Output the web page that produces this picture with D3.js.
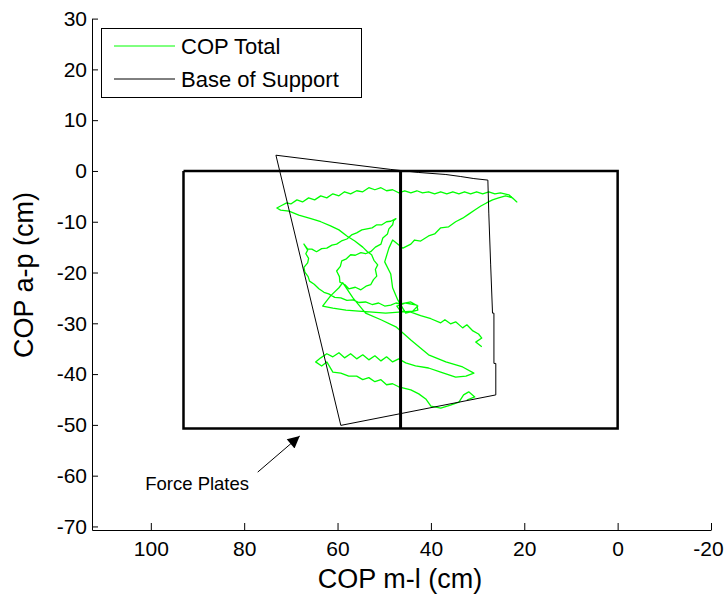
<!DOCTYPE html>
<html>
<head>
<meta charset="utf-8">
<script src="https://cdn.jsdelivr.net/npm/d3@7"></script>
<style>
  body { margin: 0; background: #fff; }
  svg { display: block; font-family: "Liberation Sans", Arial, sans-serif; }
</style>
</head>
<body>
<svg width="725" height="595"></svg>
<script>
// tick labels
var xTicks = [100, 80, 60, 40, 20, 0, -20];
var yTicks = [30, 20, 10, 0, -10, -20, -30, -40, -50, -60, -70];

// COP trace [m-l, a-p] in cm
var copTrace = [
  [29.1,-34.6],[30.4,-33.7],[29.1,-32.9],[29.8,-32.1],[31.0,-31.5],[32.3,-30.3],[33.2,-30.9],[34.7,-29.7],[35.8,-30.1],[37.0,-29.3],
  [37.9,-29.9],[40.0,-29.1],[42.2,-28.5],[44.3,-27.8],[46.5,-27.6],[47.3,-26.6],[45.4,-26.0],[43.0,-26.4],[42.8,-27.4],[45.4,-28.0],
  [47.1,-25.4],[48.2,-23.0],[48.6,-20.3],[49.9,-17.9],[49.0,-15.2],[48.2,-13.6],
  [46.0,-15.2],[44.3,-14.4],[43.5,-13.6],[42.2,-13.8],[40.5,-12.8],[39.2,-12.4],[37.9,-11.2],[36.2,-11.0],[34.7,-10.0],[33.2,-9.3],
  [31.9,-8.5],[30.6,-7.7],[29.3,-6.9],[28.1,-6.3],[26.8,-5.7],[25.5,-5.3],[24.0,-4.9],[22.5,-5.3],[21.6,-6.1],
  [22.3,-5.5],[23.3,-4.7],[25.1,-4.3],[26.3,-4.5],[27.6,-4.1],[28.9,-4.5],[30.2,-4.1],[31.5,-4.5],[32.8,-4.1],[34.0,-4.5],
  [35.3,-4.1],[36.6,-4.5],[37.9,-4.1],[39.2,-4.5],[40.5,-4.1],[41.8,-4.3],[43.0,-3.9],[44.3,-4.3],[45.6,-3.9],[46.9,-4.3],
  [48.2,-3.7],[49.5,-3.9],[50.7,-3.3],[52.0,-3.7],[53.3,-3.3],[54.6,-4.1],[55.9,-3.9],[57.2,-4.5],[58.5,-4.1],[59.7,-4.9],
  [61.0,-4.5],[62.3,-5.3],[63.6,-4.9],[64.9,-5.7],[66.2,-5.3],[67.5,-6.1],[68.7,-5.7],[70.0,-6.5],[70.9,-6.3],[72.2,-6.9],[73.0,-7.3],
  [72.2,-7.7],[70.4,-7.9],[68.3,-8.7],[65.7,-9.4],[63.6,-10.0],[61.5,-10.8],[59.7,-11.6],[58.0,-12.8],[56.3,-13.8],
  [54.6,-15.0],[53.6,-15.9],[52.7,-16.5],[52.2,-17.6],[51.4,-18.5],[51.9,-19.4],[51.6,-20.7],[52.3,-21.4],[52.9,-22.4],[53.9,-22.7],
  [55.0,-23.4],[56.2,-22.9],[57.6,-23.2],[58.4,-22.4],[59.5,-21.9],[59.6,-20.8],[60.2,-19.7],[59.4,-18.8],[59.1,-17.7],[58.1,-17.3],
  [57.2,-16.5],[56.2,-16.6],[55.0,-16.1],[54.0,-16.3],[52.9,-15.9],[51.9,-15.0],[50.7,-14.4],[50.3,-13.2],[49.3,-12.4],[49.0,-11.4],
  [48.2,-10.6],[48.0,-9.8],[47.5,-9.4],
  [48.6,-9.9],[49.5,-10.0],[50.5,-10.6],[51.6,-10.6],[52.6,-11.2],[53.7,-11.4],[54.8,-11.6],[55.9,-12.2],[57.0,-12.6],[58.0,-13.4],
  [59.0,-13.7],[60.2,-14.4],[61.2,-14.6],[62.3,-15.2],[63.4,-15.3],[64.5,-15.9],[65.5,-15.4],[66.4,-15.4],[67.2,-14.4],
  [66.4,-15.6],[66.8,-16.3],[66.2,-17.2],[66.4,-18.1],[67.2,-19.0],[67.0,-19.9],[66.3,-20.8],[66.0,-21.7],[65.0,-22.3],[64.0,-23.2],
  [62.9,-23.9],[61.9,-24.2],[60.6,-24.9],[59.3,-25.0],[58.0,-25.5],[56.7,-25.4],[55.4,-25.9],[54.0,-25.8],[52.6,-26.3],[51.2,-26.0],
  [49.9,-26.6],[48.6,-26.4],[47.5,-26.0],[46.5,-26.2],
  [44.3,-25.8],[42.8,-26.6],[43.9,-27.6],[46.9,-27.8],[49.7,-28.0],[52.5,-27.8],[55.5,-27.6],[58.2,-27.4],[61.0,-27.0],[63.2,-26.6],
  [61.5,-24.6],[59.7,-23.0],[58.9,-22.0],
  [56.7,-25.0],[54.0,-28.0],[50.7,-29.3],[47.5,-30.7],[44.3,-33.3],[40.5,-36.2],[36.8,-37.6],[33.2,-38.6],[30.8,-39.8],[32.5,-40.4],
  [34.7,-40.6],[37.9,-39.6],[40.5,-38.8],[43.3,-38.4],[45.4,-37.8],[46.9,-37.0],[48.2,-37.6],[49.5,-36.6],[50.7,-37.4],[52.0,-36.4],
  [53.3,-37.2],[54.6,-36.2],[55.9,-37.0],[57.2,-36.0],[58.5,-36.8],[59.7,-35.8],[61.0,-36.6],[62.3,-36.0],[63.6,-36.8],[64.7,-37.6],
  [63.4,-38.4],[62.3,-37.6],[61.0,-39.6],[59.3,-39.8],[57.6,-40.4],[55.9,-40.4],[54.6,-41.1],[53.3,-40.7],[52.0,-41.5],[50.7,-41.1],
  [49.5,-42.1],[48.2,-41.9],[46.9,-42.5],[44.3,-43.1],[42.6,-43.9],[41.1,-44.9],[40.0,-46.3],[37.9,-46.7],[35.8,-46.1],[34.0,-45.5],
  [33.0,-44.1],[31.9,-43.5],[30.6,-44.5],[32.3,-45.1]
];

// base of support outline
var bosX = [73.2, 48.6, 42.6, 36.8, 33.6, 30.8, 27.8, 27.6, 27.2, 26.8, 26.5, 26.5, 26.1, 26.1, 59.3, 73.2];
var bosY = [3.1, 0.3, -0.3, -0.7, -1.1, -1.5, -1.8, -8.3, -18.5, -28.0, -28.0, -37.9, -37.9, -44.1, -50.1, 3.1];

// force plates (two plates side by side)
var plateX = [93, 0, 0, 93, 93];
var plateY = [0, 0, -50.7, -50.7, 0];
var plateMid = 46.5;

var svg = d3.select("svg");

var x = d3.scaleLinear().domain([112.6, -20]).range([92, 711]);
var y = d3.scaleLinear().domain([-70.7, 30]).range([530, 18.6]);

var line = d3.line()
    .x(function(d){ return x(d[0]); })
    .y(function(d){ return y(d[1]); });

function plain(d){ return String(d); }   // hyphen minus, like the original

// axes
var xAxis = svg.append("g").attr("transform", "translate(0,530)")
    .call(d3.axisBottom(x).tickValues(xTicks).tickFormat(plain)
        .tickSizeInner(-7).tickSizeOuter(0).tickPadding(11));
var yAxis = svg.append("g").attr("transform", "translate(92,0)")
    .call(d3.axisLeft(y).tickValues(yTicks).tickFormat(plain)
        .tickSizeInner(-6).tickSizeOuter(0).tickPadding(5));

[xAxis, yAxis].forEach(function(a){
    a.selectAll("path,line").attr("stroke", "#000");
    a.selectAll("text").attr("fill", "#000").style("font-size", "21px");
    a.attr("font-family", null);
});
// last label sits on the page edge; pull it in a little
xAxis.selectAll(".tick text").filter(function(d){ return d === -20; }).attr("dx", -3);

// COP trace
svg.append("path").datum(copTrace)
    .attr("d", line)
    .attr("fill", "none")
    .attr("stroke", "#00ff00")
    .attr("stroke-width", 1.3)
    .attr("stroke-linejoin", "round");

// base of support
var bos = bosX.map(function(v, i){ return [v, bosY[i]]; });
svg.append("path").datum(bos)
    .attr("d", line)
    .attr("fill", "none")
    .attr("stroke", "#000")
    .attr("stroke-width", 1);

// force plates
var plate = plateX.map(function(v, i){ return [v, plateY[i]]; });
svg.append("path").datum(plate)
    .attr("d", line)
    .attr("fill", "none")
    .attr("stroke", "#000")
    .attr("stroke-width", 2.5);
svg.append("line")
    .attr("x1", x(plateMid)).attr("x2", x(plateMid))
    .attr("y1", y(0)).attr("y2", y(plateY[2]))
    .attr("stroke", "#000")
    .attr("stroke-width", 3);

// annotation arrow
var arrowFrom = [77.1, -59.3], arrowTo = [68.1, -52.2];
svg.append("defs").append("marker")
    .attr("id", "head")
    .attr("viewBox", "0 0 10 10")
    .attr("refX", 10).attr("refY", 5)
    .attr("markerWidth", 20).attr("markerHeight", 12)
    .attr("markerUnits", "userSpaceOnUse")
    .attr("orient", "auto")
    .append("path").attr("d", "M0,0 L10,5 L0,10 Z").attr("fill", "#000");
svg.append("line")
    .attr("x1", x(arrowFrom[0])).attr("y1", y(arrowFrom[1]))
    .attr("x2", x(arrowTo[0])).attr("y2", y(arrowTo[1]))
    .attr("stroke", "#000").attr("stroke-width", 1)
    .attr("marker-end", "url(#head)");
svg.append("text")
    .attr("x", x(101.2)).attr("y", y(-62.8))
    .style("font-size", "18.5px")
    .text("Force Plates");

// axis labels
svg.append("text")
    .attr("x", 400).attr("y", 588)
    .attr("text-anchor", "middle")
    .style("font-size", "27px")
    .text("COP m-l (cm)");
svg.append("text")
    .attr("transform", "translate(33,275) rotate(-90)")
    .attr("text-anchor", "middle")
    .style("font-size", "27px")
    .text("COP a-p (cm)");

// legend
var legend = svg.append("g");
legend.append("rect")
    .attr("x", 101.5).attr("y", 28.5).attr("width", 260).attr("height", 69)
    .attr("fill", "#fff").attr("stroke", "#000").attr("stroke-width", 1);
var legendItems = [["COP Total", "#00ff00"], ["Base of Support", "#000"]];
legendItems.forEach(function(d, i){
    var ly = 46 + i * 33;
    legend.append("line")
        .attr("x1", 114).attr("x2", 175).attr("y1", ly).attr("y2", ly)
        .attr("stroke", d[1]).attr("stroke-width", 1);
    legend.append("text")
        .attr("x", 181).attr("y", ly + 8)
        .style("font-size", "22px")
        .text(d[0]);
});
</script>
</body>
</html>
